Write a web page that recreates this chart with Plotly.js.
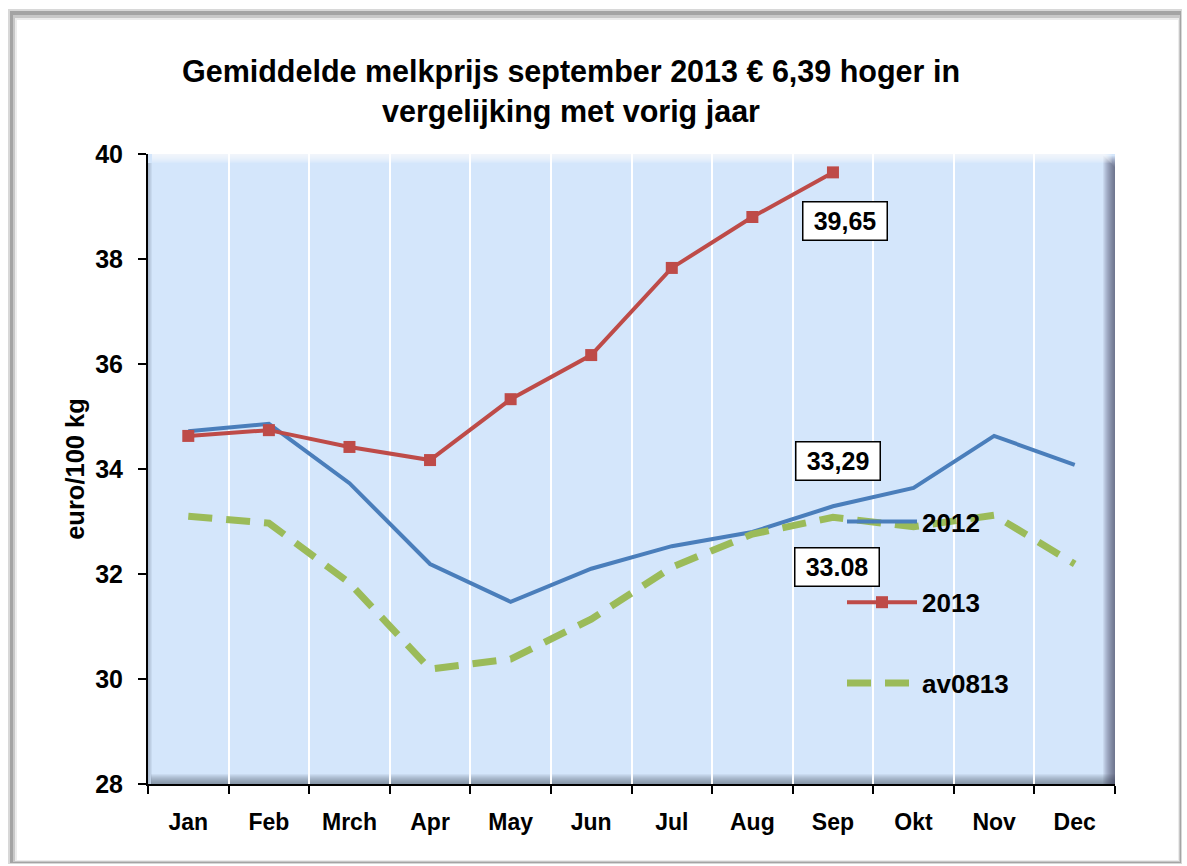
<!DOCTYPE html>
<html>
<head>
<meta charset="utf-8">
<script src="https://cdn.plot.ly/plotly-3.0.1.min.js"></script>
<style>
html,body{margin:0;padding:0;background:#ffffff;}
#chart{width:1187px;height:866px;}
</style>
</head>
<body>
<div id="chart"></div>
<script>
const months = ['Jan','Feb','Mrch','Apr','May','Jun','Jul','Aug','Sep','Okt','Nov','Dec'];
const price2012 = [34.72, 34.86, 33.73, 32.19, 31.47, 32.10, 32.53, 32.80, 33.29, 33.64, 34.63, 34.08];
const price2013 = [34.63, 34.74, 34.42, 34.17, 35.33, 36.17, 37.83, 38.80, 39.65];
const avg0813 = [33.10, 32.97, 31.83, 30.19, 30.38, 31.14, 32.13, 32.76, 33.08, 32.90, 33.12, 32.19];
const seriesNames = ['2012', '2013', 'av0813'];
const labelTexts = ['39,65', '33,29', '33.08'];
const titleText = 'Gemiddelde melkprijs september 2013 € 6,39 hoger in<br>vergelijking met vorig jaar';
const yTitle = 'euro/100 kg';
const yTicks = [28, 30, 32, 34, 36, 38, 40];

// layout geometry (pixels)
const W = 1187, H = 866;
const L = 148, R = 1115, T = 154, B = 784;
const X = p => (p - L) / (R - L);
const Y = p => (B - p) / (B - T);

const FONT = '"Liberation Sans", Arial, sans-serif';
const PLOTBG = '#d4e6fb';

const traces = [
  {x: months, y: price2012, name: seriesNames[0], type: 'scatter', mode: 'lines',
   line: {color: '#4a7ebb', width: 4}, legendgroup: 'a'},
  {x: months.slice(0, price2013.length), y: price2013, name: seriesNames[1], type: 'scatter', mode: 'lines+markers',
   line: {color: '#be4b48', width: 4}, marker: {symbol: 'square', size: 12, color: '#be4b48'}, legendgroup: 'b'},
  {x: months, y: avg0813, name: seriesNames[2], type: 'scatter', mode: 'lines',
   line: {color: '#9bbb59', width: 7, dash: '24px,14px'}, legendgroup: 'c'}
];

const shapes = [];
// outer frame
shapes.push({type:'rect', xref:'paper', yref:'paper', x0:X(8), x1:X(1182), y0:Y(864), y1:Y(9),
  fillcolor:'#d8d8d8', line:{width:0}, layer:'below'});
shapes.push({type:'rect', xref:'paper', yref:'paper', x0:X(10), x1:X(1181), y0:Y(863), y1:Y(11),
  fillcolor:'#a4a4a4', line:{width:0}, layer:'below'});
shapes.push({type:'rect', xref:'paper', yref:'paper', x0:X(13), x1:X(1180), y0:Y(862), y1:Y(15),
  fillcolor:'#c8c8c8', line:{width:0}, layer:'below'});
shapes.push({type:'rect', xref:'paper', yref:'paper', x0:X(15), x1:X(1179), y0:Y(861), y1:Y(18),
  fillcolor:'#ececec', line:{width:0}, layer:'below'});
shapes.push({type:'rect', xref:'paper', yref:'paper', x0:X(17), x1:X(1178), y0:Y(860), y1:Y(20),
  fillcolor:'#ffffff', line:{width:0}, layer:'below'});
// plot area background
shapes.push({type:'rect', xref:'paper', yref:'paper', x0:0, x1:1, y0:0, y1:1,
  fillcolor:PLOTBG, line:{width:0}, layer:'below'});
// plot bevel: bottom dark
for (let i = 1; i <= 10; i++) {
  shapes.push({type:'rect', xref:'paper', yref:'paper', x0:X(L + 3), x1:1, y0:0, y1:Y(B - i),
    fillcolor:'rgba(70,80,100,0.07)', line:{width:0}, layer:'below'});
}
// right dark
for (let i = 1; i <= 12; i++) {
  shapes.push({type:'rect', xref:'paper', yref:'paper', x0:X(R - i), x1:1, y0:0, y1:Y(T + 14 - i),
    fillcolor:'rgba(50,60,80,0.075)', line:{width:0}, layer:'below'});
}
// top highlight
for (let i = 1; i <= 9; i++) {
  shapes.push({type:'rect', xref:'paper', yref:'paper', x0:X(L + 4), x1:X(R - 12 + i), y0:Y(T + i), y1:1,
    fillcolor:'rgba(255,255,255,0.13)', line:{width:0}, layer:'below'});
}
// left shade
for (let i = 1; i <= 4; i++) {
  shapes.push({type:'rect', xref:'paper', yref:'paper', x0:0, x1:X(L + i), y0:0, y1:Y(T + 9),
    fillcolor:'rgba(90,100,120,0.09)', line:{width:0}, layer:'below'});
}

const boxPos = [[845, 221], [838, 461], [837, 567]];
const annotations = labelTexts.map((t, i) => ({
  text: t, xref: 'paper', yref: 'paper', x: X(boxPos[i][0]), y: Y(boxPos[i][1]),
  xanchor: 'center', yanchor: 'middle', showarrow: false,
  font: {family: FONT, size: 25, color: '#000000', weight: 'bold'},
  bgcolor: '#ffffff', bordercolor: '#000000', borderwidth: 1.5,
  width: 81, height: 35
}));

const layout = {
  width: W, height: H,
  margin: {l: L, r: W - R, t: T, b: H - B, pad: 0},
  paper_bgcolor: 'rgba(0,0,0,0)',
  plot_bgcolor: 'rgba(0,0,0,0)',
  font: {family: FONT, color: '#000000'},
  title: {text: titleText, x: 571 / W, xref: 'container', xanchor: 'center',
          y: 1 - 82 / H, yref: 'container', yanchor: 'middle',
          font: {family: FONT, size: 30.5, color: '#000000', weight: 'bold'}},
  xaxis: {type: 'category', categoryorder: 'array', categoryarray: months,
          tickson: 'boundaries', ticks: 'outside', ticklen: 8, tickwidth: 2, tickcolor: '#000000',
          showline: true, linecolor: '#000000', linewidth: 2,
          showgrid: true, gridcolor: '#ffffff', gridwidth: 2,
          tickfont: {family: FONT, size: 23, weight: 'bold'}, ticklabelstandoff: 16,
          range: [-0.5, 11.5], fixedrange: true},
  yaxis: {range: [28, 40], tickvals: yTicks, ticks: 'outside', ticklen: 8, tickwidth: 2, tickcolor: '#000000',
          showline: true, linecolor: '#000000', linewidth: 2, showgrid: false, zeroline: false,
          tickfont: {family: FONT, size: 25, weight: 'bold'}, ticklabelstandoff: 10,
          title: {text: yTitle, font: {family: FONT, size: 25.5, weight: 'bold'}, standoff: 3},
          fixedrange: true},
  showlegend: true,
  legend: {x: X(842), y: Y(498), xanchor: 'left', yanchor: 'top', bgcolor: 'rgba(0,0,0,0)',
           borderwidth: 0, traceorder: 'grouped', tracegroupgap: 44, itemwidth: 70,
           font: {family: FONT, size: 26, weight: 'bold', color: '#000000'}},
  shapes: shapes,
  annotations: annotations
};

Plotly.newPlot('chart', traces, layout, {displayModeBar: false, staticPlot: true});
</script>
</body>
</html>
